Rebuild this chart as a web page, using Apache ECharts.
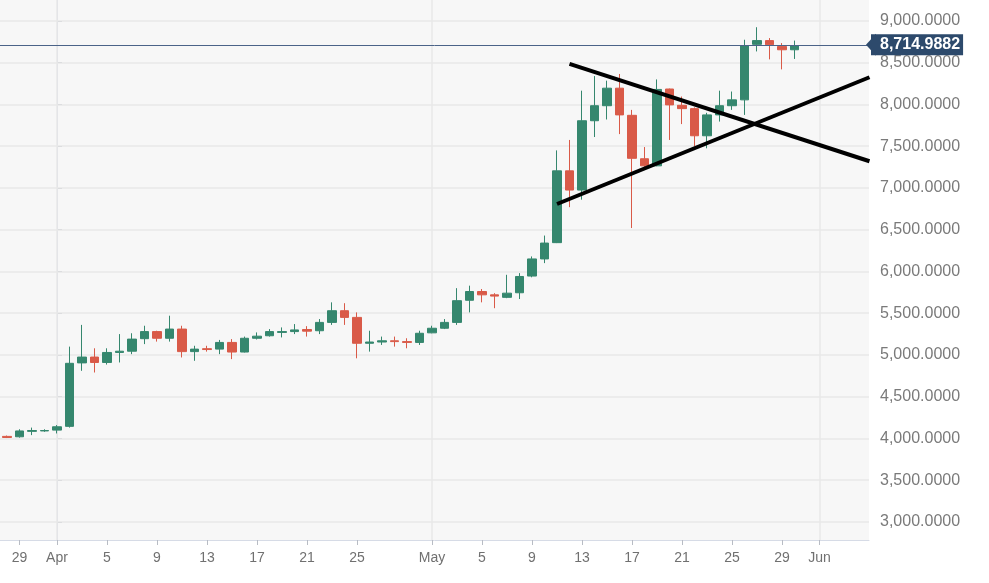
<!DOCTYPE html>
<html>
<head>
<meta charset="utf-8">
<script src="https://cdn.jsdelivr.net/npm/echarts@6/dist/echarts.min.js"></script>
<style>
html,body{margin:0;padding:0;background:#fff;}
#chart{width:989px;height:583px;}
</style>
</head>
<body>
<div id="chart"></div>
<script>
// ---- data ----
const dates = [
 '2019-03-28','2019-03-29','2019-03-30','2019-03-31',
 '2019-04-01','2019-04-02','2019-04-03','2019-04-04','2019-04-05','2019-04-06','2019-04-07','2019-04-08','2019-04-09','2019-04-10',
 '2019-04-11','2019-04-12','2019-04-13','2019-04-14','2019-04-15','2019-04-16','2019-04-17','2019-04-18','2019-04-19','2019-04-20',
 '2019-04-21','2019-04-22','2019-04-23','2019-04-24','2019-04-25','2019-04-26','2019-04-27','2019-04-28','2019-04-29','2019-04-30',
 '2019-05-01','2019-05-02','2019-05-03','2019-05-04','2019-05-05','2019-05-06','2019-05-07','2019-05-08','2019-05-09','2019-05-10',
 '2019-05-11','2019-05-12','2019-05-13','2019-05-14','2019-05-15','2019-05-16','2019-05-17','2019-05-18','2019-05-19','2019-05-20',
 '2019-05-21','2019-05-22','2019-05-23','2019-05-24','2019-05-25','2019-05-26','2019-05-27','2019-05-28','2019-05-29','2019-05-30'
];
const opens = [
 4025,4020,4085,4090,
 4100,4145,4905,4975,4910,5030,5045,5195,5280,5200,
 5310,5040,5075,5070,5150,5035,5200,5230,5270,5280,
 5305,5290,5390,5530,5450,5140,5155,5170,5160,5150,
 5265,5320,5390,5655,5760,5720,5690,5745,5945,6150,
 6345,7205,6975,7805,7985,8195,7870,7350,7265,8185,
 7990,7950,7625,7875,7985,8055,8720,8765,8695,8655
];
const closes = [
 4012,4090,4095,4095,
 4140,4900,4975,4910,5030,5045,5190,5280,5200,5310,
 5040,5070,5065,5150,5035,5200,5225,5280,5280,5300,
 5285,5390,5530,5450,5140,5155,5170,5160,5150,5260,
 5320,5390,5650,5760,5720,5705,5740,5940,6150,6340,
 7205,6975,7805,7985,8195,7875,7355,7265,8180,7995,
 7950,7625,7875,7985,8055,8705,8765,8715,8655,8700
];
const lows = [
 4005,4010,4040,4080,
 4060,4130,4810,4790,4885,4910,5010,5130,5160,5160,
 4970,4930,5040,5010,4950,5030,5185,5220,5210,5250,
 5220,5250,5360,5360,4960,5040,5120,5100,5080,5120,
 5260,5310,5360,5510,5630,5560,5680,5670,5930,6100,
 6340,6770,6860,7610,7820,7645,6520,7245,7260,7575,
 7765,7500,7475,7795,7935,7875,8635,8540,8420,8545
];
const highs = [
 4035,4110,4130,4110,
 4160,5100,5360,5080,5080,5250,5260,5350,5290,5470,
 5350,5110,5110,5180,5190,5220,5270,5310,5330,5370,
 5345,5430,5630,5620,5510,5290,5220,5220,5200,5290,
 5350,5430,5800,5830,5790,5740,5960,5980,6180,6430,
 7450,7575,8165,8340,8285,8365,7935,7490,8300,8190,
 8095,7965,7900,8165,8155,8775,8925,8795,8735,8765
];
const lastPrice = 8714.9882;
const tickDates = ['2019-03-29','2019-04-01','2019-04-05','2019-04-09','2019-04-13','2019-04-17','2019-04-21','2019-04-25',
                   '2019-05-01','2019-05-05','2019-05-09','2019-05-13','2019-05-17','2019-05-21','2019-05-25','2019-05-29','2019-06-01'];
const tickLabels = ['29','Apr','5','9','13','17','21','25','May','5','9','13','17','21','25','29','Jun'];
const monthLineDates = ['2019-04-01','2019-05-01','2019-06-01'];
const yTicks = [3000,3500,4000,4500,5000,5500,6000,6500,7000,7500,8000,8500,9000];
// trend lines: [date, price]
const trendDown = [['2019-05-12', 8485], ['2019-06-05', 7320]];
const trendUp = [['2019-05-11', 6808], ['2019-06-05', 8326]];

// ---- helpers ----
const base = Date.UTC(2019, 3, 1);
function dayIdx(s) { const p = s.split('-').map(Number); return Math.round((Date.UTC(p[0], p[1]-1, p[2]) - base) / 86400000); }
const candleData = dates.map((d, i) => [dayIdx(d), opens[i], closes[i], lows[i], highs[i]]);
const tickDays = tickDates.map(dayIdx);
const labelMap = {};
tickDays.forEach((d, i) => { labelMap[d] = tickLabels[i]; });
function fmt(v) { return Number(v).toLocaleString('en-US', {minimumFractionDigits: 4, maximumFractionDigits: 4}); }

const X_MIN = -4.56, X_MAX = 64.96;
const FONT = 'Liberation Sans, Arial, sans-serif';
const UP = '#35876e', DOWN = '#d95a48';

const chart = echarts.init(document.getElementById('chart'), null, {renderer: 'canvas'});
chart.setOption({
  animation: false,
  backgroundColor: '#ffffff',
  grid: {left: 0, right: 120, top: 0, bottom: 43, show: true, backgroundColor: '#f7f7f7', borderWidth: 0},
  xAxis: {
    type: 'value', min: X_MIN, max: X_MAX,
    axisLine: {show: true, lineStyle: {color: '#d6dbe6', width: 1}},
    axisTick: {show: true, customValues: tickDays, length: 5, lineStyle: {color: '#b8bcc4'}},
    axisLabel: {customValues: tickDays, formatter: v => labelMap[Math.round(v)] || '', color: '#707070', fontSize: 14, fontFamily: FONT, margin: 11},
    splitLine: {show: false}
  },
  yAxis: {
    type: 'value', position: 'right', min: 2784, max: 9251, scale: true,
    axisLine: {show: true, lineStyle: {color: '#d6dbe6', width: 1}},
    axisTick: {show: true, customValues: yTicks, length: 5, lineStyle: {color: '#b8bcc4'}},
    axisLabel: {customValues: yTicks, formatter: v => fmt(v), color: '#7a7a7a', fontSize: 16, fontFamily: FONT, margin: 11, padding: [4, 0, 0, 0]},
    splitLine: {show: false}
  },
  series: [
    {
      name: 'grid', type: 'line', data: [], z: 1, silent: true,
      markLine: {
        silent: true, symbol: 'none', z: 1, animation: false,
        label: {show: false},
        lineStyle: {color: '#e8e8e8', width: 1.5, type: 'solid'},
        data: yTicks.map(v => ({yAxis: v})).concat(monthLineDates.map(d => ({xAxis: dayIdx(d)})))
      }
    },
    {
      name: 'BTC', type: 'candlestick', z: 3, barWidth: 9,
      encode: {x: 0, y: [1, 2, 3, 4]},
      data: candleData,
      itemStyle: {color: UP, color0: DOWN, borderColor: UP, borderColor0: DOWN, borderWidth: 1},
      markLine: {
        silent: true, symbol: 'none', animation: false,
        lineStyle: {color: '#4b6388', width: 1, type: 'solid'},
        label: {show: true, position: 'end', distance: 2, formatter: () => fmt(lastPrice),
                backgroundColor: '#2d4a6c', color: '#ffffff', fontWeight: 'bold', fontSize: 16, fontFamily: FONT,
                padding: [3, 3, 2, 9]},
        data: [{yAxis: lastPrice}]
      },
      markPoint: {
        silent: true, animation: false,
        symbol: 'path://M0,5 L10,0 L10,10 Z', symbolSize: [10, 22], symbolOffset: [2, 0],
        itemStyle: {color: '#2d4a6c'}, label: {show: false},
        data: [{coord: [X_MAX, lastPrice]}]
      }
    },
    {
      name: 'trendDown', type: 'line', z: 4, silent: true, symbol: 'none',
      lineStyle: {color: '#000000', width: 4},
      data: trendDown.map(p => [dayIdx(p[0]), p[1]])
    },
    {
      name: 'trendUp', type: 'line', z: 4, silent: true, symbol: 'none',
      lineStyle: {color: '#000000', width: 4},
      data: trendUp.map(p => [dayIdx(p[0]), p[1]])
    }
  ]
});
</script>
</body>
</html>
